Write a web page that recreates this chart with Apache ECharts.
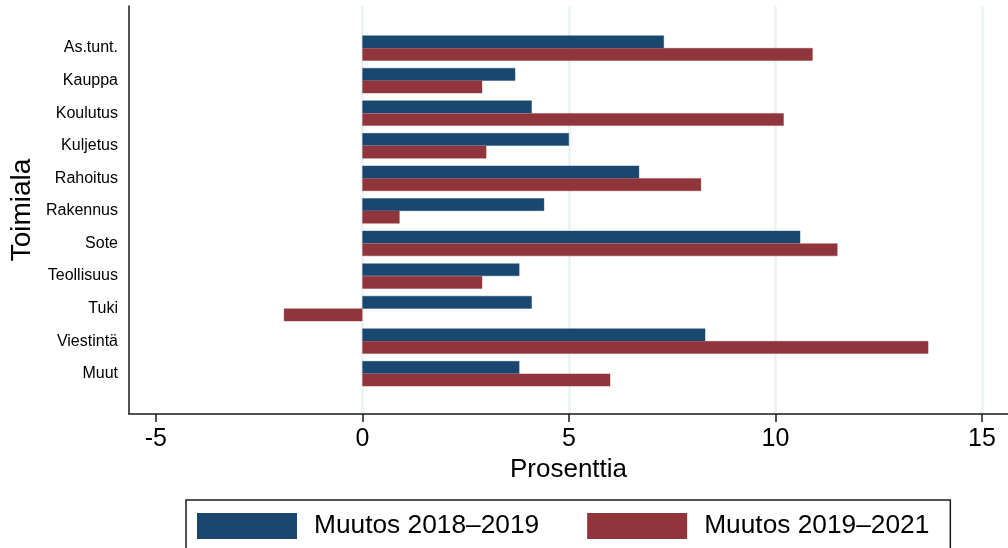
<!DOCTYPE html>
<html>
<head>
<meta charset="utf-8">
<script src="https://cdn.jsdelivr.net/npm/echarts@6/dist/echarts.min.js"></script>
<style>
  html, body { margin: 0; padding: 0; background: #fff; }
  #chart { width: 1008px; height: 548px; }
</style>
</head>
<body>
<div id="chart"></div>
<script>
const categories = ['As.tunt.', 'Kauppa', 'Koulutus', 'Kuljetus', 'Rahoitus', 'Rakennus', 'Sote', 'Teollisuus', 'Tuki', 'Viestintä', 'Muut'];
const seriesNames = ['Muutos 2018–2019', 'Muutos 2019–2021'];
const change2018_2019 = [7.3, 3.7, 4.1, 5.0, 6.7, 4.4, 10.6, 3.8, 4.1, 8.3, 3.8];
const change2019_2021 = [10.9, 2.9, 10.2, 3.0, 8.2, 0.9, 11.5, 2.9, -1.9, 13.7, 6.0];
const xTicks = [-5, 0, 5, 10, 15];
const gridValues = [0, 5, 10, 15];
const xTitle = 'Prosenttia';
const yTitle = 'Toimiala';

const X_MIN = -5.65, X_MAX = 15.63;
const FONT = '"Liberation Sans", Arial, Helvetica, sans-serif';
const BLUE = '#1a476f', RED = '#90353b';

const chart = echarts.init(document.getElementById('chart'), null, { renderer: 'canvas' });
chart.setOption({
  animation: false,
  backgroundColor: '#fff',
  textStyle: { fontFamily: FONT },
  grid: [
    { left: 129, right: 0, top: 31.8, height: 358.2, containLabel: false },
    { left: 129, right: 0, top: 6, bottom: 134, containLabel: false }
  ],
  legend: {
    data: seriesNames,
    left: 186,
    top: 500,
    orient: 'horizontal',
    icon: 'rect',
    itemWidth: 100,
    itemHeight: 26,
    itemGap: 48,
    padding: [13, 21, 13, 11],
    borderColor: '#1a1a1a',
    borderWidth: 1.5,
    selectedMode: false,
    itemStyle: { borderWidth: 0 },
    textStyle: { fontFamily: FONT, fontSize: 26.3, color: '#000', padding: [0, 0, 0, 12] }
  },
  xAxis: [
    { gridIndex: 0, type: 'value', min: X_MIN, max: X_MAX, show: false },
    {
      gridIndex: 1, type: 'value', min: X_MIN, max: X_MAX,
      name: xTitle, nameLocation: 'middle', nameGap: 43,
      nameTextStyle: { fontFamily: FONT, fontSize: 26, color: '#000' },
      axisLine: { show: true, onZero: false, lineStyle: { color: '#1a1a1a', width: 1.5 } },
      axisTick: { show: true, length: 8, lineStyle: { color: '#1a1a1a', width: 1.5 }, customValues: xTicks },
      axisLabel: { show: true, fontFamily: FONT, fontSize: 25, color: '#000', margin: 13, customValues: xTicks },
      splitLine: { show: false }
    }
  ],
  yAxis: [
    {
      gridIndex: 0, type: 'category', data: categories, inverse: true,
      axisLine: { show: false }, axisTick: { show: false },
      axisLabel: { fontFamily: FONT, fontSize: 16, color: '#000', margin: 11 },
      splitLine: { show: false }
    },
    {
      gridIndex: 1, type: 'value', min: 0, max: 1,
      name: yTitle, nameLocation: 'middle', nameGap: 93, nameRotate: 90,
      nameTextStyle: { fontFamily: FONT, fontSize: 28, color: '#000' },
      axisLine: { show: true, onZero: false, lineStyle: { color: '#1a1a1a', width: 1.5 } },
      axisTick: { show: false }, axisLabel: { show: false }, splitLine: { show: false }
    }
  ],
  series: [
    {
      type: 'line', xAxisIndex: 1, yAxisIndex: 1, data: [], silent: true, z: 0,
      markLine: {
        silent: true, symbol: 'none', label: { show: false }, z: 0,
        lineStyle: { color: '#eaf2f3', width: 2.5, type: 'solid' },
        data: gridValues.map(v => ({ xAxis: v }))
      }
    },
    {
      name: seriesNames[0], type: 'bar', xAxisIndex: 0, yAxisIndex: 0,
      data: change2018_2019, barWidth: 12.6, barGap: '0%',
      itemStyle: { color: BLUE, borderColor: BLUE, borderWidth: 0.4 }, z: 3
    },
    {
      name: seriesNames[1], type: 'bar', xAxisIndex: 0, yAxisIndex: 0,
      data: change2019_2021, barWidth: 12.6, barGap: '0%',
      itemStyle: { color: RED, borderColor: RED, borderWidth: 0.4 }, z: 3
    }
  ]
});
</script>
</body>
</html>
